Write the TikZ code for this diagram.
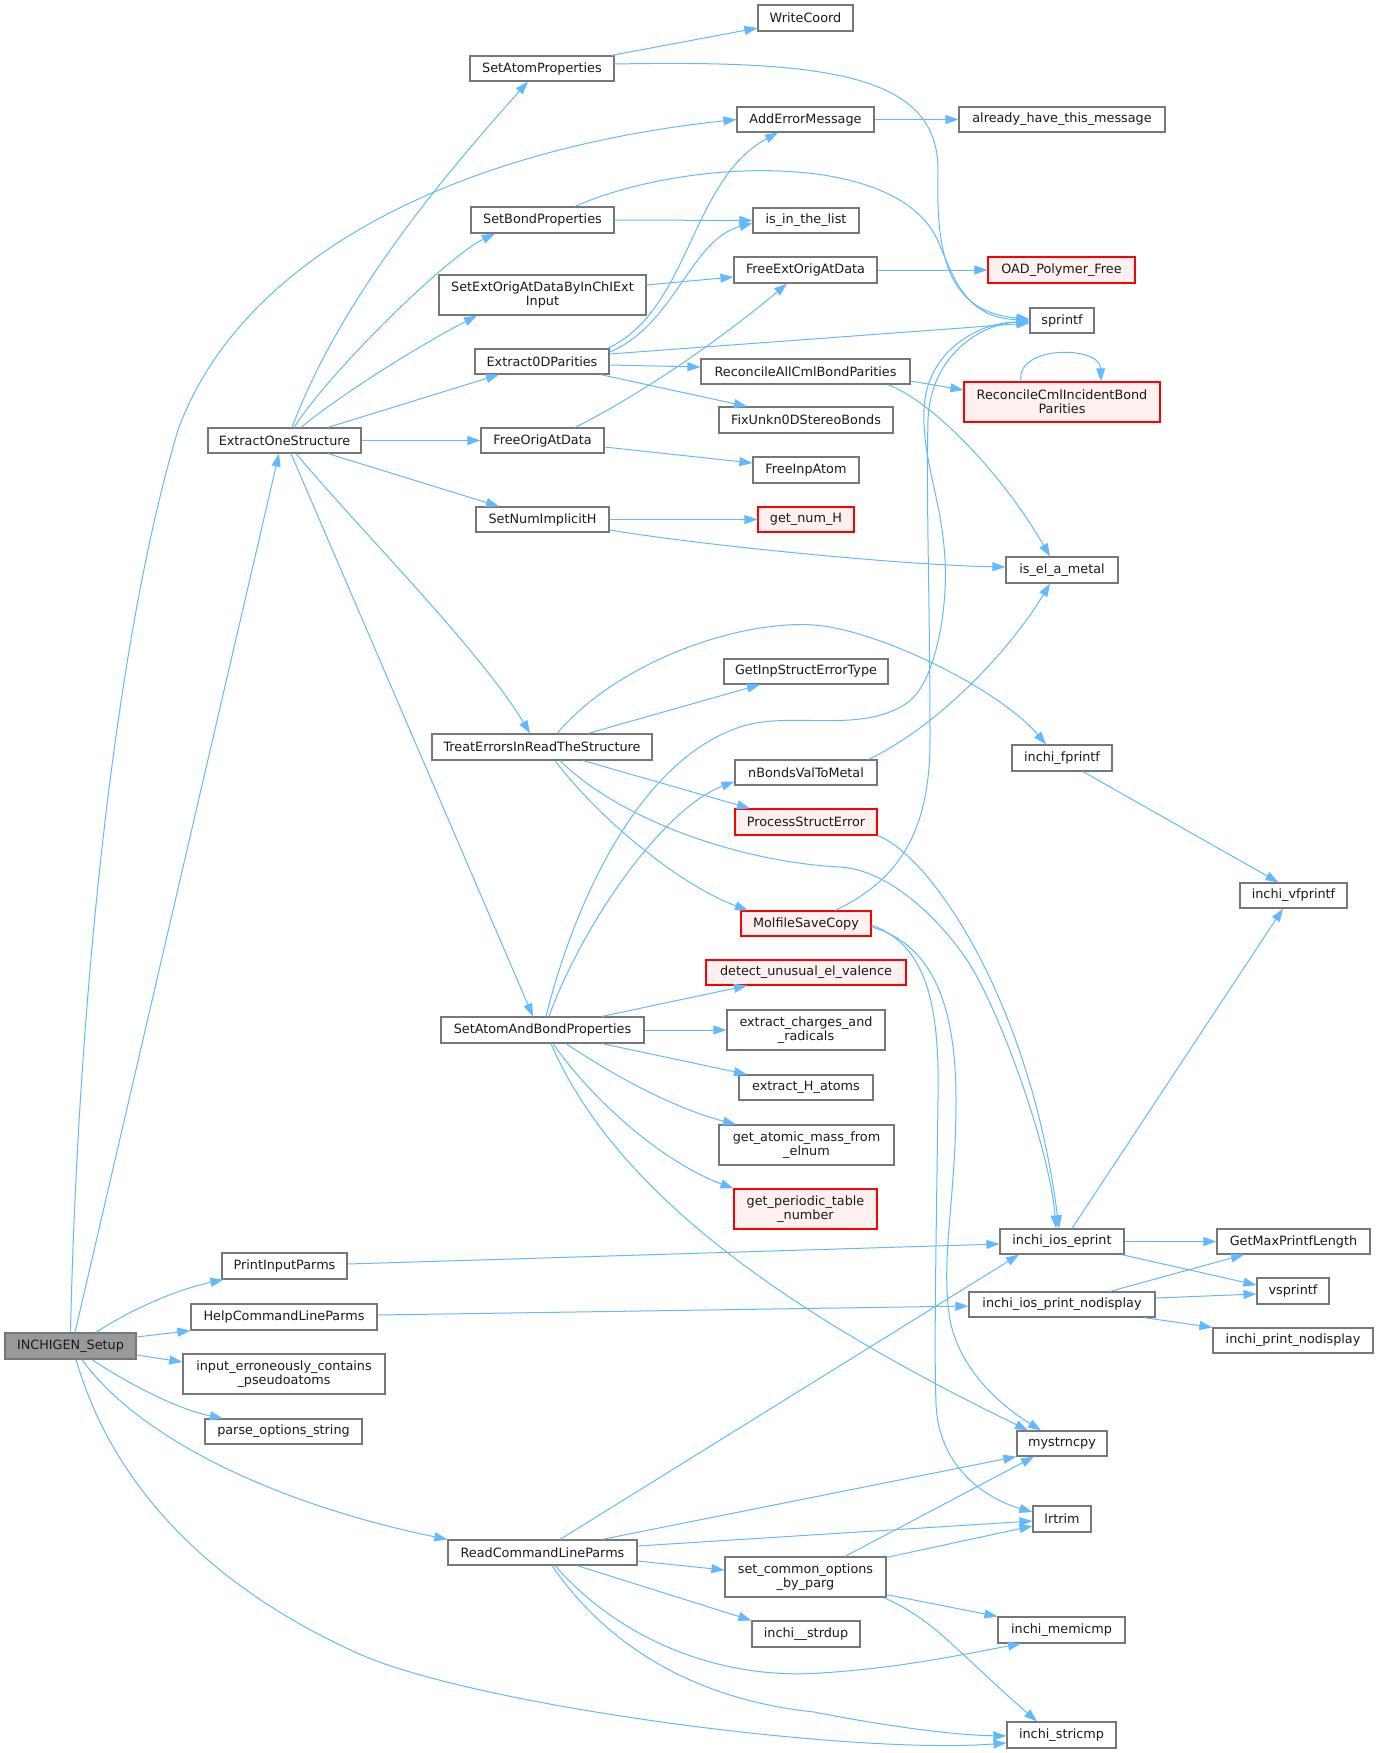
\documentclass[tikz,border=0pt]{standalone}
\usepackage{fontspec}
\setmainfont{DejaVu Sans}
\usetikzlibrary{arrows.meta,calc}
\definecolor{edgeblue}{HTML}{63B8FF}
\definecolor{nodegray}{HTML}{777777}
\definecolor{redfill}{HTML}{FFF0F0}
\definecolor{rootfill}{HTML}{999999}
\definecolor{textcol}{HTML}{1A1A1A}
\tikzset{
  fn/.style={draw=nodegray, line width=1.2pt, fill=white, inner sep=0pt, align=center,
    text=textcol, font=\fontsize{12.8}{14.3}\selectfont},
  fnred/.style={fn, draw=red},
  fnredfill/.style={fnred, fill=redfill},
  fnroot/.style={fn, fill=rootfill},
  edge/.style={draw=edgeblue, line width=1pt, -{Triangle[length=13pt,width=9pt]}},
}
\begin{document}
\begin{tikzpicture}[x=1pt,y=-1pt]
\useasboundingbox (0,0) rectangle (1379,1753);

% nodes
\node[fnroot, minimum width=131pt, minimum height=26pt] (inchigen) at (70.5,1346) {INCHIGEN\_Setup};
\node[fn, minimum width=153pt, minimum height=25pt] (eos) at (284.5,440.5) {ExtractOneStructure};
\node[fn, minimum width=125pt, minimum height=26pt] (pip) at (284.5,1266) {PrintInputParms};
\node[fn, minimum width=186pt, minimum height=26pt] (hclp) at (284,1317) {HelpCommandLineParms};
\node[fn, minimum width=202pt, minimum height=40pt] (iecp) at (284,1374) {input\_erroneously\_contains\\\_pseudoatoms};
\node[fn, minimum width=157pt, minimum height=25pt] (pos) at (283.5,1431.5) {parse\_options\_string};
\node[fn, minimum width=189pt, minimum height=25pt] (rclp) at (542.5,1552.5) {ReadCommandLineParms};
\node[fn, minimum width=144pt, minimum height=25pt] (sap) at (542,68.5) {SetAtomProperties};
\node[fn, minimum width=143pt, minimum height=26pt] (sbp) at (542.5,220) {SetBondProperties};
\node[fn, minimum width=207pt, minimum height=40pt] (seo) at (542.5,295) {SetExtOrigAtDataByInChIExt\\Input};
\node[fn, minimum width=134pt, minimum height=25pt] (e0d) at (542,361.5) {Extract0DParities};
\node[fn, minimum width=123pt, minimum height=25pt] (foad) at (542.5,440.5) {FreeOrigAtData};
\node[fn, minimum width=133pt, minimum height=25pt] (snih) at (542.5,519.5) {SetNumImplicitH};
\node[fn, minimum width=220pt, minimum height=26pt] (te) at (542,747) {TreatErrorsInReadTheStructure};
\node[fn, minimum width=203pt, minimum height=26pt] (sabp) at (542.5,1030) {SetAtomAndBondProperties};
\node[fn, minimum width=95pt, minimum height=26pt] (wc) at (805.5,18) {WriteCoord};
\node[fn, minimum width=137pt, minimum height=25pt] (aem) at (805.5,119.5) {AddErrorMessage};
\node[fn, minimum width=106pt, minimum height=25pt] (iitl) at (806,220.5) {is\_in\_the\_list};
\node[fn, minimum width=143pt, minimum height=26pt] (feoad) at (805.5,270) {FreeExtOrigAtData};
\node[fn, minimum width=209pt, minimum height=25pt] (racbp) at (805.5,371.5) {ReconcileAllCmlBondParities};
\node[fn, minimum width=174pt, minimum height=26pt] (fix) at (806,420) {FixUnkn0DStereoBonds};
\node[fn, minimum width=106pt, minimum height=26pt] (fia) at (806,470) {FreeInpAtom};
\node[fnredfill, minimum width=96pt, minimum height=25pt] (gnh) at (806,519.5) {get\_num\_H};
\node[fn, minimum width=164pt, minimum height=25pt] (gise) at (806,671.5) {GetInpStructErrorType};
\node[fn, minimum width=142pt, minimum height=25pt] (nbv) at (806,772.5) {nBondsValToMetal};
\node[fnredfill, minimum width=142pt, minimum height=26pt] (pse) at (806,822) {ProcessStructError};
\node[fnredfill, minimum width=130pt, minimum height=25pt] (msc) at (806,923.5) {MolfileSaveCopy};
\node[fnredfill, minimum width=200pt, minimum height=25pt] (duev) at (806,972.5) {detect\_unusual\_el\_valence};
\node[fn, minimum width=158pt, minimum height=40pt] (ecr) at (806,1030) {extract\_charges\_and\\\_radicals};
\node[fn, minimum width=134pt, minimum height=25pt] (eha) at (806,1087.5) {extract\_H\_atoms};
\node[fn, minimum width=175pt, minimum height=40pt] (gam) at (806.5,1145) {get\_atomic\_mass\_from\\\_elnum};
\node[fnredfill, minimum width=143pt, minimum height=40pt] (gptn) at (805.5,1209) {get\_periodic\_table\\\_number};
\node[fn, minimum width=161pt, minimum height=40pt] (sco) at (805.5,1577) {set\_common\_options\\\_by\_parg};
\node[fn, minimum width=108pt, minimum height=26pt] (isd) at (806,1634) {inchi\_\_strdup};
\node[fn, minimum width=206pt, minimum height=25pt] (ahtm) at (1062,119.5) {already\_have\_this\_message};
\node[fnredfill, minimum width=147pt, minimum height=26pt] (oad) at (1061.5,270) {OAD\_Polymer\_Free};
\node[fn, minimum width=64pt, minimum height=25pt] (spf) at (1062,320.5) {sprintf};
\node[fnredfill, minimum width=196pt, minimum height=40pt] (rcib) at (1062,402) {ReconcileCmlIncidentBond\\Parities};
\node[fn, minimum width=112pt, minimum height=26pt] (iem) at (1062,570) {is\_el\_a\_metal};
\node[fn, minimum width=100pt, minimum height=26pt] (ifp) at (1062,758) {inchi\_fprintf};
\node[fn, minimum width=124pt, minimum height=25pt] (iie) at (1062,1241.5) {inchi\_ios\_eprint};
\node[fn, minimum width=186pt, minimum height=25pt] (iipn) at (1062,1304.5) {inchi\_ios\_print\_nodisplay};
\node[fn, minimum width=90pt, minimum height=25pt] (msn) at (1062,1443.5) {mystrncpy};
\node[fn, minimum width=58pt, minimum height=26pt] (lrt) at (1062,1519) {lrtrim};
\node[fn, minimum width=127pt, minimum height=26pt] (imc) at (1061.5,1630) {inchi\_memicmp};
\node[fn, minimum width=109pt, minimum height=26pt] (isc) at (1061.5,1735) {inchi\_stricmp};
\node[fn, minimum width=107pt, minimum height=25pt] (ivf) at (1293.5,895.5) {inchi\_vfprintf};
\node[fn, minimum width=153pt, minimum height=25pt] (gmpl) at (1293.5,1241.5) {GetMaxPrintfLength};
\node[fn, minimum width=72pt, minimum height=26pt] (vsp) at (1293,1291) {vsprintf};
\node[fn, minimum width=160pt, minimum height=25pt] (ipn) at (1293,1340.5) {inchi\_print\_nodisplay};

% edges from INCHIGEN_Setup
\draw[edge] ($(inchigen.north)+(4.5,0)$) -- ($(eos.south)+(-5.5,0)$);
\draw[edge] (inchigen.north) .. controls (78,1000) and (115,640) .. (178,430) .. controls (240,260) and (450,150) .. (aem.west);
\draw[edge] ($(inchigen.north)+(25.5,0)$) .. controls (130,1310) and (175,1290) .. ($(pip.south west)+(2,0)$);
\draw[edge] ($(inchigen.east)+(0,-9)$) -- (hclp.south west);
\draw[edge] ($(inchigen.east)+(0,9)$) -- ($(iecp.west)+(0,-12)$);
\draw[edge] ($(inchigen.south)+(21.5,0)$) .. controls (130,1385) and (180,1410) .. ($(pos.north)+(-60.5,0)$);
\draw[edge] ($(inchigen.south)+(11.5,0)$) .. controls (140,1440) and (280,1505) .. (rclp.north west);
\draw[edge] ($(inchigen.south)+(5.5,0)$) .. controls (120,1510) and (240,1600) .. (357,1653) .. controls (474,1706) and (850,1755) .. ($(isc.west)+(0,8)$);

% edges from ExtractOneStructure
\draw[edge] ($(eos.north)+(7.5,0)$) .. controls (340,300) and (440,180) .. ($(sap.south)+(-14,0)$);
\draw[edge] ($(eos.north)+(9.5,0)$) .. controls (335,365) and (450,255) .. ($(sbp.south)+(-47.5,0)$);
\draw[edge] ($(eos.north)+(16.5,0)$) .. controls (340,395) and (420,345) .. ($(seo.south)+(-65.5,0)$);
\draw[edge] ($(eos.north)+(43.5,0)$) -- ($(e0d.south)+(-43,0)$);
\draw[edge] (eos.east) -- (foad.west);
\draw[edge] ($(eos.south)+(43.5,0)$) -- ($(snih.north)+(-43.5,0)$);
\draw[edge] ($(eos.south)+(11.5,0)$) .. controls (360,530) and (480,650) .. ($(te.north)+(-12,0)$);
\draw[edge] ($(eos.south)+(6.5,0)$) -- ($(sabp.north)+(-9.5,0)$);

% second level
\draw[edge] ($(sap.north east)+(-3,0)$) -- ($(wc.west)+(0,10)$);
\draw[edge] ($(sap.east)+(0,-4.5)$) .. controls (830,60) and (938,75) .. (938,170) .. controls (936,250) and (945,312) .. ($(spf.west)+(0,-1.5)$);
\draw[edge] (aem.east) -- (ahtm.west);
\draw[edge] (sbp.east) -- (iitl.west);
\draw[edge] ($(sbp.north)+(32.5,0)$) .. controls (680,160) and (880,150) .. (932,230) .. controls (950,258) and (955,318) .. ($(spf.west)+(0,-0.5)$);
\draw[edge] ($(seo.east)+(0,-10)$) -- ($(feoad.west)+(0,7)$);
\draw[edge] ($(e0d.north east)+(-2,0)$) .. controls (690,310) and (690,180) .. ($(aem.south)+(-27.5,0)$);
\draw[edge] ($(e0d.east)+(0,-9.5)$) .. controls (675,325) and (690,240) .. ($(iitl.west)+(0,2.5)$);
\draw[edge] ($(e0d.east)+(0,-7.5)$) -- ($(spf.west)+(0,2.5)$);
\draw[edge] ($(e0d.east)+(0,3.5)$) -- ($(racbp.west)+(0,-4.5)$);
\draw[edge] ($(e0d.south east)+(-9,0)$) -- ($(fix.north)+(-59,0)$);
\draw[edge] ($(foad.north)+(32.5,0)$) .. controls (640,395) and (720,340) .. ($(feoad.south)+(-18.5,0)$);
\draw[edge] ($(foad.east)+(0,6.5)$) -- ($(fia.west)+(0,-7)$);
\draw[edge] (snih.east) -- (gnh.west);
\draw[edge] ($(snih.east)+(0,10.5)$) .. controls (700,545) and (900,565) .. ($(iem.west)+(0,-3)$);
\draw[edge] ($(racbp.east)+(0,9.5)$) -- ($(rcib.west)+(0,-12)$);
\draw[edge] ($(racbp.south east)+(-23,0)$) .. controls (930,400) and (1000,470) .. ($(iem.north)+(-12,0)$);
\draw[edge] ($(rcib.north)+(-41,0)$) .. controls (1015,345) and (1100,345) .. ($(rcib.north)+(39,0)$);
\draw[edge] (feoad.east) -- (oad.west);

% TreatErrorsInReadTheStructure
\draw[edge] ($(te.north)+(15,0)$) .. controls (620,660) and (740,620) .. (814,625) .. controls (880,630) and (1000,690) .. ($(ifp.north)+(-16,0)$);
\draw[edge] ($(te.north)+(46,0)$) -- ($(gise.south)+(-46,0)$);
\draw[edge] ($(te.south)+(41,0)$) -- ($(pse.north)+(-56,0)$);
\draw[edge] ($(te.south)+(13,0)$) .. controls (600,820) and (680,885) .. ($(msc.north)+(-58,0)$);
\draw[edge] ($(te.south)+(18,0)$) .. controls (620,820) and (740,862) .. (840,867) .. controls (890,870) and (940,920) .. (967,960) .. controls (1000,1010) and (1050,1150) .. ($(iie.north)+(-6,0)$);
\draw[edge] (pse.south east) .. controls (930,855) and (1030,1000) .. ($(iie.north)+(-3,0)$);
\draw[edge] ($(nbv.north east)+(-9,0)$) .. controls (940,725) and (1010,650) .. ($(iem.south)+(-12,0)$);
\draw[edge] ($(msc.north)+(29,0)$) .. controls (900,880) and (930,830) .. (930,740) .. controls (930,600) and (926,500) .. (928,420) .. controls (930,360) and (975,325) .. ($(spf.west)+(0,0.5)$);

% SetAtomAndBondProperties
\draw[edge] ($(sabp.north)+(3.5,0)$) .. controls (575,900) and (640,760) .. (740,727) .. controls (790,710) and (860,735) .. (907,703) .. controls (935,684) and (948,610) .. (945,560) .. controls (942,500) and (922,460) .. (924,410) .. controls (926,350) and (980,322) .. ($(spf.west)+(0,1.5)$);
\draw[edge] ($(sabp.north)+(6.5,0)$) .. controls (580,930) and (660,810) .. ($(nbv.west)+(0,9)$);
\draw[edge] ($(sabp.north)+(59.5,0)$) -- ($(duev.south)+(-59,0)$);
\draw[edge] (sabp.east) -- (ecr.west);
\draw[edge] ($(sabp.south)+(59.5,0)$) -- ($(eha.north)+(-59,0)$);
\draw[edge] ($(sabp.south)+(23.5,0)$) .. controls (620,1080) and (680,1110) .. ($(gam.north)+(-70.5,0)$);
\draw[edge] ($(sabp.south)+(10.5,0)$) .. controls (600,1110) and (670,1165) .. (gptn.north west);
\draw[edge] ($(sabp.south)+(8.5,0)$) .. controls (610,1180) and (760,1300) .. ($(msn.north)+(-34,0)$);

% MolfileSaveCopy
\draw[edge] ($(msc.east)+(0,3.5)$) .. controls (935,945) and (956,1010) .. (956,1100) .. controls (956,1200) and (940,1260) .. (950,1320) .. controls (960,1370) and (1000,1405) .. ($(msn.north)+(-21,0)$);
\draw[edge] ($(msc.east)+(0,1.5)$) .. controls (925,945) and (940,1000) .. (938,1100) .. controls (936,1250) and (934,1350) .. (936,1403) .. controls (938,1470) and (990,1500) .. ($(lrt.west)+(0,-7)$);

% printing
\draw[edge] (iie.east) -- (gmpl.west);
\draw[edge] ($(iie.south east)+(-3,0)$) -- ($(vsp.west)+(0,-6)$);
\draw[edge] ($(iie.north)+(10,0)$) -- ($(ivf.south)+(-10.5,0)$);
\draw[edge] ($(ifp.south)+(21,0)$) -- ($(ivf.north)+(-15,0)$);
\draw[edge] ($(iipn.north)+(48,0)$) -- ($(gmpl.south)+(-49.5,0)$);
\draw[edge] ($(iipn.east)+(0,-6.5)$) -- ($(vsp.west)+(0,3)$);
\draw[edge] ($(iipn.south)+(82,0)$) -- (ipn.north west);
\draw[edge] ($(pip.east)+(0,-2)$) -- ($(iie.west)+(0,2.5)$);
\draw[edge] ($(hclp.east)+(0,-2)$) -- ($(iipn.west)+(0,1.5)$);

% ReadCommandLineParms
\draw[edge] ($(rclp.north)+(17.5,0)$) -- ($(iie.south)+(-43,0)$);
\draw[edge] ($(rclp.north)+(59.5,0)$) -- (msn.south west);
\draw[edge] ($(rclp.east)+(0,-6.5)$) -- ($(lrt.west)+(0,2)$);
\draw[edge] ($(rclp.east)+(0,8.5)$) -- ($(sco.west)+(0,-7)$);
\draw[edge] ($(rclp.south)+(34.5,0)$) -- (isd.north west);
\draw[edge] ($(rclp.south)+(12.5,0)$) .. controls (620,1640) and (720,1680) .. (820,1673) .. controls (900,1668) and (960,1655) .. ($(imc.south)+(-40.5,0)$);
\draw[edge] ($(rclp.south)+(9.5,0)$) .. controls (610,1650) and (700,1700) .. (814,1712) .. controls (880,1725) and (950,1735) .. ($(isc.west)+(0,1)$);

% set_common_options_by_parg
\draw[edge] ($(sco.north)+(39.5,0)$) -- ($(msn.south)+(-28,0)$);
\draw[edge] ($(sco.north east)+(0,1)$) -- ($(lrt.west)+(0,7)$);
\draw[edge] ($(sco.south east)+(0,-3)$) -- (imc.north west);
\draw[edge] ($(sco.south east)+(-3,0)$) .. controls (935,1620) and (955,1650) .. ($(isc.north)+(-24.5,0)$);
\end{tikzpicture}
\end{document}
